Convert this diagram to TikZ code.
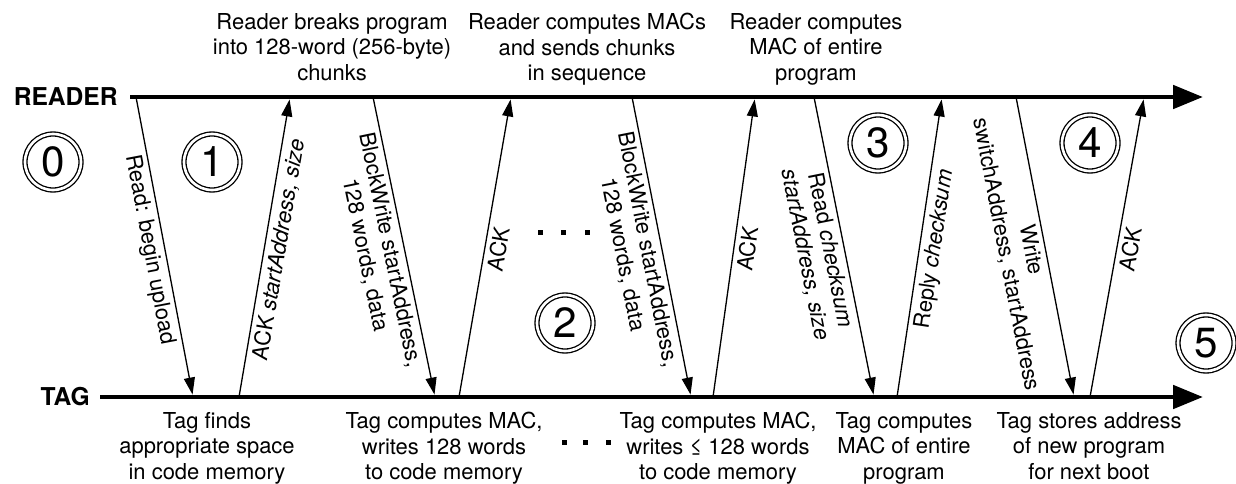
\documentclass[tikz,border=0pt]{standalone}
\usepackage{fontspec}
\setmainfont{TeX Gyre Heros}
\usetikzlibrary{arrows.meta}

\tikzset{
  lifeline/.style={line width=2.8pt, -{Triangle[length=0.6cm,width=0.46cm]}},
  msg/.style={line width=0.75pt, -{Triangle[length=0.34cm,width=0.22cm]}, shorten >=1.4pt},
  msglabel/.style={sloped, below, pos=0.5, inner sep=2.5pt, align=center,
    font=\fontsize{12.5}{14.5}\selectfont},
  note/.style={anchor=north, inner sep=0pt, align=center,
    font=\fontsize{12.5}{14.5}\selectfont},
  actor/.style={anchor=east, inner sep=0pt, font=\fontsize{14}{14}\selectfont\bfseries},
  phase/.style={circle, draw, double, line width=0.75pt, double distance=1.5pt,
    minimum size=1.12cm, inner sep=0pt, font=\fontsize{24}{24}\selectfont},
  gapdot/.style={fill=black}
}

\begin{document}
\begin{tikzpicture}[x=0.02cm,y=-0.02cm]
\useasboundingbox (0,0) rectangle (1236,483);

% the two parties
\node[actor] (reader) at (118,97) {READER};
\node[actor] (tag) at (90,397) {TAG};
\coordinate (rstart) at (130,97);
\coordinate (rend) at (1203,97);
\coordinate (tstart) at (100,397);
\coordinate (tend) at (1203,397);
\draw[lifeline] (rstart) -- (rend);
\draw[lifeline] (tstart) -- (tend);

% message end points on the reader line
\coordinate (r1) at (136,97);
\coordinate (r2) at (290,97);
\coordinate (r3) at (373,97);
\coordinate (r4) at (511,97);
\coordinate (r5) at (632,97);
\coordinate (r6) at (755,97);
\coordinate (r7) at (814,97);
\coordinate (r8) at (942,97);
\coordinate (r9) at (1016,97);
\coordinate (r10) at (1144,97);
% message end points on the tag line
\coordinate (t1) at (193,397);
\coordinate (t2) at (239,397);
\coordinate (t3) at (435,397);
\coordinate (t4) at (459,397);
\coordinate (t5) at (691,397);
\coordinate (t6) at (713,397);
\coordinate (t7) at (874,397);
\coordinate (t8) at (897,397);
\coordinate (t9) at (1074,397);
\coordinate (t10) at (1090,397);

% messages
\draw[msg] (r1) -- node[msglabel] {Read: begin upload} (t1);
\draw[msg] (t2) -- node[msglabel] {ACK \textit{startAddress, size}} (r2);
\draw[msg] (r3) -- node[msglabel] {BlockWrite startAddress,\\128 words, data} (t3);
\draw[msg] (t4) -- node[msglabel] {ACK} (r4);
\draw[msg] (r5) -- node[msglabel] {BlockWrite startAddress,\\128 words, data} (t5);
\draw[msg] (t6) -- node[msglabel] {ACK} (r6);
\draw[msg] (r7) -- node[msglabel] {Read \textit{checksum}\\\textit{startAddress, size}} (t7);
\draw[msg] (t8) -- node[msglabel] {Reply \textit{checksum}} (r8);
\draw[msg] (r9) -- node[msglabel] {Write\\switchAddress, startAddress} (t9);
\draw[msg] (t10) -- node[msglabel] {ACK} (r10);

% phases
\node[phase] (p0) at (53,162) {0};
\node[phase] (p1) at (212,162) {1};
\node[phase] (p2) at (565,323) {2};
\node[phase] (p3) at (878,143) {3};
\node[phase] (p4) at (1090,143) {4};
\node[phase] (p5) at (1206,343) {5};

% reader side notes
\node[note] (rn1) at (332,13) {Reader breaks program\\into 128-word (256-byte)\\chunks};
\node[note] (rn2) at (587,13) {Reader computes MACs\\and sends chunks\\in sequence};
\node[note] (rn3) at (816,13) {Reader computes\\MAC of entire\\program};

% tag side notes
\node[note] (tn1) at (207,412) {Tag finds\\appropriate space\\in code memory};
\node[note] (tn2) at (444,412) {Tag computes MAC,\\writes 128 words\\to code memory};
\node[note] (tn3) at (718,412) {Tag computes MAC,\\writes ≤ 128 words\\to code memory};
\node[note] (tn4) at (904,412) {Tag computes\\MAC of entire\\program};
\node[note] (tn5) at (1089,412) {Tag stores address\\of new program\\for next boot};

% repeated chunks
\fill[gapdot] (537.5,229.5) rectangle ++(5,5);
\fill[gapdot] (560.5,229.5) rectangle ++(5,5);
\fill[gapdot] (584.5,229.5) rectangle ++(5,5);
\fill[gapdot] (561.5,439.5) rectangle ++(5,5);
\fill[gapdot] (582.5,439.5) rectangle ++(5,5);
\fill[gapdot] (605.5,439.5) rectangle ++(5,5);
\end{tikzpicture}
\end{document}
